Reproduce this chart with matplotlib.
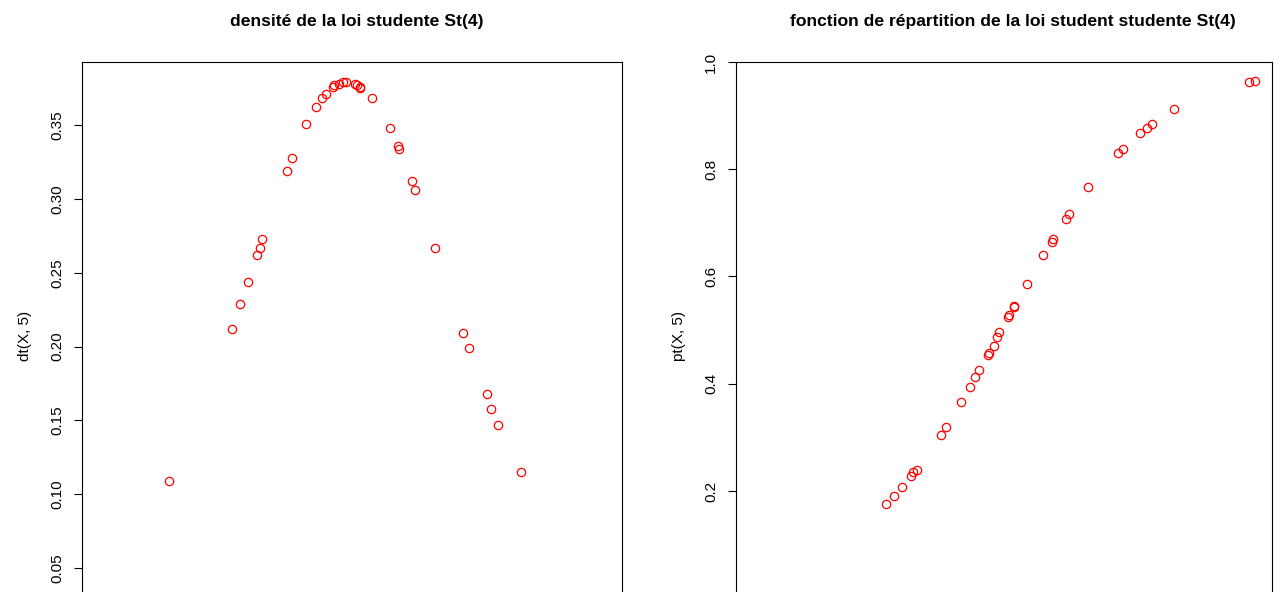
import matplotlib.pyplot as plt

plt.rcParams['font.family'] = ['Liberation Sans', 'DejaVu Sans']

# left panel : densite dt(X, 5)
x_dens = [-1.60, -1.03, -0.95, -0.88, -0.80, -0.77, -0.75, -0.53, -0.48, -0.35,
          -0.26, -0.21, -0.17, -0.11, -0.10, -0.05, -0.02, 0.01, 0.09, 0.11,
          0.14, 0.14, 0.25, 0.41, 0.48, 0.49, 0.61, 0.64, 0.82, 1.07,
          1.13, 1.29, 1.33, 1.39, 1.60]
y_dens = [0.109, 0.212, 0.229, 0.244, 0.262, 0.267, 0.273, 0.319, 0.328, 0.351,
          0.362, 0.368, 0.371, 0.376, 0.377, 0.378, 0.379, 0.379, 0.378, 0.377,
          0.376, 0.375, 0.368, 0.348, 0.336, 0.334, 0.312, 0.306, 0.267, 0.209,
          0.199, 0.168, 0.158, 0.147, 0.115]

# right panel : fonction de repartition pt(X, 5)
x_rep = [-1.06, -0.98, -0.91, -0.83, -0.81, -0.78, -0.56, -0.51, -0.38, -0.29,
         -0.25, -0.21, -0.13, -0.12, -0.08, -0.05, -0.03, 0.05, 0.06, 0.11,
         0.11, 0.22, 0.37, 0.45, 0.46, 0.58, 0.61, 0.78, 1.05, 1.10,
         1.25, 1.31, 1.36, 1.56, 2.24, 2.30]
y_rep = [0.176, 0.191, 0.207, 0.228, 0.235, 0.239, 0.304, 0.319, 0.366, 0.394,
         0.412, 0.425, 0.453, 0.457, 0.470, 0.487, 0.496, 0.524, 0.528, 0.543,
         0.545, 0.586, 0.640, 0.664, 0.670, 0.707, 0.717, 0.767, 0.830, 0.838,
         0.868, 0.877, 0.884, 0.912, 0.963, 0.965]

W, H = 1280, 592
fig = plt.figure(figsize=(W / 100, H / 100), dpi=100)


def box(l, t, r, b):
    # pixel box -> figure fraction (axes run past the bottom edge, like the crop)
    return [l / W, (H - b) / H, (r - l) / W, (b - t) / H]


ax1 = fig.add_axes(box(82, 62, 622, 610))
ax2 = fig.add_axes(box(736, 62, 1272, 610))

ax1.plot(x_dens, y_dens, 'o', mfc='none', mec='red', ms=6, mew=0.9)
ax1.set_xlim(-2.39, 2.52)
ax1.set_ylim(0.0216, 0.3927)
ax1.set_yticks([0.05, 0.10, 0.15, 0.20, 0.25, 0.30, 0.35])
ax1.set_yticklabels(['0.05', '0.10', '0.15', '0.20', '0.25', '0.30', '0.35'])
ax1.set_ylabel('dt(X, 5)', fontsize=11, labelpad=13)
ax1.set_title('densité de la loi studente St(4)', fontsize=12.6,
              fontweight='bold', pad=26, x=0.509)

ax2.plot(x_rep, y_rep, 'o', mfc='none', mec='red', ms=6, mew=0.9)
ax2.set_xlim(-2.42, 2.45)
ax2.set_ylim(-0.022, 1.0)
ax2.set_yticks([0.2, 0.4, 0.6, 0.8, 1.0])
ax2.set_yticklabels(['0.2', '0.4', '0.6', '0.8', '1.0'])
ax2.set_ylabel('pt(X, 5)', fontsize=11, labelpad=13)
ax2.set_title('fonction de répartition de la loi student studente St(4)',
              fontsize=12.6, fontweight='bold', pad=26, x=0.517)

for ax in (ax1, ax2):
    ax.set_xticks([])
    for s in ax.spines.values():
        s.set_linewidth(0.8)
        s.set_color('black')
    ax.tick_params(axis='y', direction='out', length=6, width=0.8,
                   labelsize=11, labelrotation=90, pad=7)
    for lab in ax.get_yticklabels():
        lab.set_va('center')

plt.savefig('out.png', dpi=100)
